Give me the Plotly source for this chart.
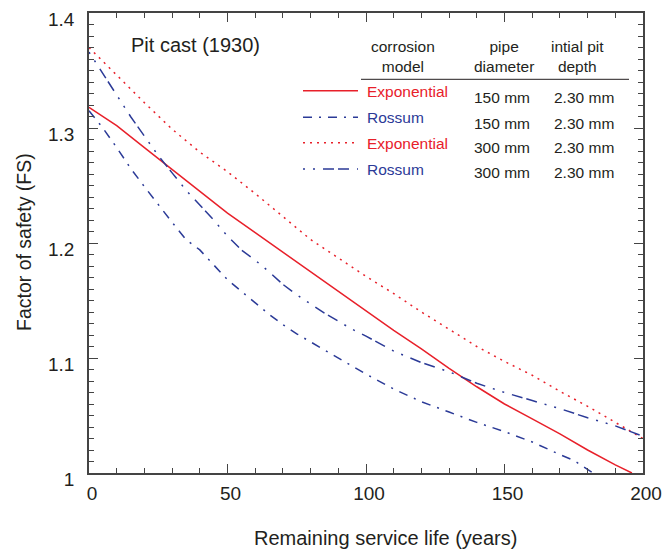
import plotly.graph_objects as go

# ---------------- data ----------------
years_exp150 = [0, 10, 20, 30, 40, 50, 60, 70, 80, 90, 100, 110, 120, 130, 140, 150, 160, 170, 180, 190, 196]
fs_exp150 = [1.318, 1.302, 1.283, 1.264, 1.245, 1.226, 1.209, 1.192, 1.175, 1.158, 1.141, 1.124, 1.108,
             1.091, 1.075, 1.060, 1.047, 1.034, 1.020, 1.007, 1.000]

years_ros150 = [0, 5, 10, 15, 20, 25, 30, 35, 40, 45, 50, 55, 60, 65, 70, 75, 80, 90, 100, 110, 120,
                130, 140, 150, 160, 170, 175, 182]
fs_ros150 = [1.315, 1.300, 1.283, 1.265, 1.249, 1.233, 1.218, 1.203, 1.194, 1.181, 1.168, 1.158, 1.148,
             1.138, 1.129, 1.121, 1.114, 1.100, 1.086, 1.073, 1.062, 1.053, 1.044, 1.036, 1.027, 1.016,
             1.011, 1.000]

years_exp300 = [0, 10, 20, 30, 40, 50, 60, 70, 80, 90, 100, 110, 120, 130, 140, 150, 160, 170, 180, 190, 200]
fs_exp300 = [1.370, 1.346, 1.322, 1.299, 1.279, 1.262, 1.243, 1.223, 1.203, 1.187, 1.171, 1.156, 1.140,
             1.125, 1.110, 1.097, 1.085, 1.071, 1.058, 1.044, 1.030]

years_ros300 = [0, 5, 10, 15, 20, 25, 30, 35, 40, 45, 50, 55, 60, 65, 70, 75, 80, 85, 90, 95, 100, 110,
                120, 130, 140, 150, 160, 170, 180, 190, 200]
fs_ros300 = [1.366, 1.347, 1.328, 1.310, 1.293, 1.276, 1.261, 1.246, 1.233, 1.220, 1.206, 1.194, 1.185,
             1.175, 1.164, 1.155, 1.147, 1.139, 1.132, 1.125, 1.119, 1.106, 1.096, 1.088, 1.078, 1.070,
             1.063, 1.056, 1.048, 1.041, 1.032]

x_tickvals = [0, 50, 100, 150, 200]
x_ticktext = ["0", "50", "100", "150", "200"]
y_tickvals = [1.0, 1.1, 1.2, 1.3, 1.4]
y_ticktext = ["1", "1.1", "1.2", "1.3", "1.4"]

legend_models = ["Exponential", "Rossum", "Exponential", "Rossum"]
legend_diam = ["150 mm", "150 mm", "300 mm", "300 mm"]
legend_depth = ["2.30 mm", "2.30 mm", "2.30 mm", "2.30 mm"]
headers = ["corrosion<br>model", "pipe<br>diameter", "intial pit<br>depth"]

# ---------------- styles ----------------
RED = "#E8202A"
BLUE = "#2B3A97"
TXT = "#231F20"
FONT = "Liberation Sans, Arial, Helvetica, sans-serif"
DASH_ROS150 = "9px,7px,2px,7px"
DASH_EXP300 = "2px,5px"
DASH_ROS300 = "2px,8px,2px,8px,11px,4px,11px,8px"

series = [
    (years_exp150, fs_exp150, RED, "solid"),
    (years_ros150, fs_ros150, BLUE, DASH_ROS150),
    (years_exp300, fs_exp300, RED, DASH_EXP300),
    (years_ros300, fs_ros300, BLUE, DASH_ROS300),
]

W, H = 664, 550
L, R, T, B = 89, 21, 13, 77
PW, PH = W - L - R, H - T - B


def px(xp):
    return (xp - L) / PW


def py(yp):
    return (H - B - yp) / PH


fig = go.Figure()
for xs, ys, col, dash in series:
    fig.add_trace(go.Scatter(x=xs, y=ys, mode="lines",
                             line=dict(color=col, width=1.5, dash=dash),
                             showlegend=False, hoverinfo="skip"))

axis_common = dict(
    showgrid=False, zeroline=False, showline=True, linecolor="#444444", linewidth=1.5,
    mirror="ticks", ticks="inside", ticklen=9, tickwidth=1.2, tickcolor="#444444",
    tickfont=dict(family=FONT, size=19, color=TXT), automargin=False,
)

fig.update_xaxes(range=[0, 200], tickvals=x_tickvals, ticktext=x_ticktext,
                 minor=dict(dtick=10, ticks="inside", ticklen=5, tickwidth=1.2, tickcolor="#444444"),
                 ticklabelshift=3, ticklabelstandoff=2, **axis_common)
fig.update_yaxes(range=[1.0, 1.4], tickvals=y_tickvals, ticktext=y_ticktext,
                 minor=dict(dtick=0.01, ticks="inside", ticklen=5, tickwidth=1.2, tickcolor="#444444"),
                 ticklabelshift=6, ticklabelstandoff=9, **axis_common)

ann = []
# axis titles
ann.append(dict(x=px(385), y=py(538), xref="paper", yref="paper", text="Remaining service life (years)",
                showarrow=False, font=dict(family=FONT, size=20, color=TXT), xanchor="center", yanchor="middle"))
ann.append(dict(x=px(24), y=py(242), xref="paper", yref="paper", text="Factor of safety (FS)", textangle=-90,
                showarrow=False, font=dict(family=FONT, size=19.5, color=TXT), xanchor="center", yanchor="middle"))
# panel title
ann.append(dict(x=px(129), y=py(45), xref="paper", yref="paper", text="Pit cast (1930)",
                showarrow=False, font=dict(family=FONT, size=20, color=TXT), xanchor="left", yanchor="middle"))

# legend table headers
for htxt, hx in zip(headers, [403, 504, 577]):
    ann.append(dict(x=px(hx), y=py(56), xref="paper", yref="paper", text=htxt, showarrow=False,
                    font=dict(family=FONT, size=15.5, color=TXT), xanchor="center", yanchor="middle"))

shapes = [dict(type="line", xref="paper", yref="paper", x0=px(361), x1=px(629), y0=py(79.3), y1=py(79.3),
               line=dict(color=TXT, width=1))]

row_model_y = [91, 117.3, 143.3, 169]
row_val_y = [97.3, 123.3, 147.7, 172.3]
row_line_y = [90.7, 117.3, 142.7, 169]
for i, (xs, ys, col, dash) in enumerate(series):
    shapes.append(dict(type="line", xref="paper", yref="paper", x0=px(303), x1=px(358),
                       y0=py(row_line_y[i]), y1=py(row_line_y[i]), line=dict(color=col, width=1.5, dash=dash)))
    ann.append(dict(x=px(365), y=py(row_model_y[i]), xref="paper", yref="paper", text=legend_models[i],
                    showarrow=False, font=dict(family=FONT, size=15.5, color=col), xanchor="left", yanchor="middle"))
    ann.append(dict(x=px(502), y=py(row_val_y[i]), xref="paper", yref="paper", text=legend_diam[i],
                    showarrow=False, font=dict(family=FONT, size=15.5, color=TXT), xanchor="center", yanchor="middle"))
    ann.append(dict(x=px(584), y=py(row_val_y[i]), xref="paper", yref="paper", text=legend_depth[i],
                    showarrow=False, font=dict(family=FONT, size=15.5, color=TXT), xanchor="center", yanchor="middle"))

fig.update_layout(width=W, height=H, margin=dict(l=L, r=R, t=T, b=B),
                  paper_bgcolor="white", plot_bgcolor="white",
                  annotations=ann, shapes=shapes, showlegend=False)

fig.write_html("out.html")
